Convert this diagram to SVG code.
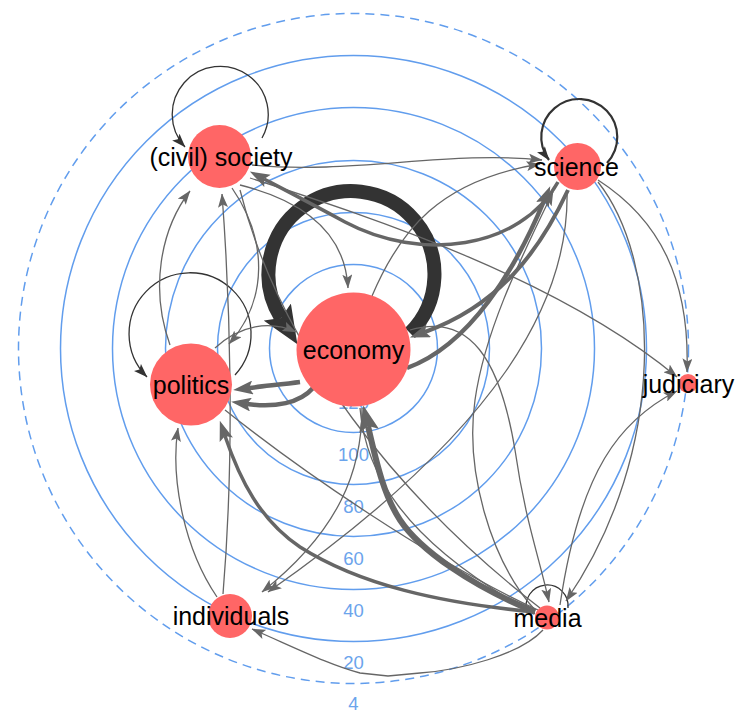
<svg xmlns="http://www.w3.org/2000/svg" width="738" height="713" viewBox="0 0 738 713">
<style>
.ring{fill:none;stroke:#619ded;stroke-width:1.5}
.rl{font-family:"Liberation Sans",Arial,sans-serif;font-size:18.5px;fill:#6ba4ec;text-anchor:middle}
.e{fill:none;stroke:#666;stroke-linecap:butt}
.lp{fill:none;stroke:#333}
.n{fill:#ff6666}
.nl{font-family:"Liberation Sans",Arial,sans-serif;font-size:25px;fill:#000;text-anchor:middle}
</style>
<defs>
<marker id="a" viewBox="0 0 14 10" refX="13.5" refY="5" markerWidth="14" markerHeight="10" markerUnits="userSpaceOnUse" orient="auto"><path d="M0,0 L14,5 L0,10 L3,5 Z" fill="#666"/></marker>
<marker id="ad" viewBox="0 0 14 10" refX="13.5" refY="5" markerWidth="14" markerHeight="10" markerUnits="userSpaceOnUse" orient="auto"><path d="M0,0 L14,5 L0,10 L3,5 Z" fill="#333"/></marker>
<marker id="am" viewBox="0 0 20 14" refX="4" refY="7" markerWidth="20" markerHeight="14" markerUnits="userSpaceOnUse" orient="auto"><path d="M0,0 L20,7 L0,14 L4,7 Z" fill="#666"/></marker>
<marker id="al" viewBox="0 0 26 20" refX="5" refY="10" markerWidth="26" markerHeight="20" markerUnits="userSpaceOnUse" orient="auto"><path d="M0,0 L26,10 L0,20 L5,10 Z" fill="#666"/></marker>
<marker id="ax" viewBox="0 0 38 32" refX="7" refY="16" markerWidth="38" markerHeight="32" markerUnits="userSpaceOnUse" orient="auto"><path d="M0,0 L38,16 L0,32 L7,16 Z" fill="#333"/></marker>
</defs>
<g id="rings">
<circle class="ring" cx="353.5" cy="348.5" r="32"/>
<circle class="ring" cx="353.5" cy="348.5" r="84"/>
<circle class="ring" cx="353.5" cy="348.5" r="136"/>
<circle class="ring" cx="353.5" cy="348.5" r="188"/>
<circle class="ring" cx="353.5" cy="348.5" r="241"/>
<circle class="ring" cx="353.5" cy="348.5" r="293"/>
<circle class="ring" cx="353.5" cy="348.5" r="335" stroke-dasharray="9 6"/>
<text class="rl" x="353.5" y="409">120</text>
<text class="rl" x="353.5" y="461">100</text>
<text class="rl" x="353.5" y="513">80</text>
<text class="rl" x="353.5" y="565">60</text>
<text class="rl" x="353.5" y="617">40</text>
<text class="rl" x="353.5" y="669">20</text>
<text class="rl" x="353.5" y="710">4</text>
</g>
<g id="connectors">
<path class="lp" stroke-width="1.3" d="M262 138 A48 48 0 1 0 185 147" marker-end="url(#ad)"/>
<path class="lp" stroke-width="2.2" d="M607 163 A38 38 0 1 0 549 160" marker-end="url(#ad)"/>
<path class="lp" stroke-width="1.3" d="M235 375 A61 61 0 1 0 147 377" marker-end="url(#ad)"/>
<path class="lp" stroke-width="1.3" d="M568 608 A21 21 0 1 0 527 612"/>
<path class="lp" stroke-width="14" d="M410 333 A83 83 0 1 0 281 318" marker-end="url(#ax)"/>
<path class="e" stroke-width="3.5" d="M558 182 C520 250 420 262 345 222 C310 203 285 190 264 179" marker-end="url(#am)"/>
<path class="e" stroke-width="1.3" d="M252 165 C350 175 450 150 542 160" marker-end="url(#a)"/>
<path class="e" stroke-width="1.3" d="M372 296 C400 230 440 180 540 164" marker-end="url(#a)"/>
<path class="e" stroke-width="4" d="M568 190 C540 250 500 305 425 332" marker-end="url(#am)"/>
<path class="e" stroke-width="4.5" d="M407 368 C470 345 515 270 544 201" marker-end="url(#am)"/>
<path class="e" stroke-width="1.3" d="M240 185 C300 200 345 230 348 288" marker-end="url(#a)"/>
<path class="e" stroke-width="1.3" d="M232 188 C268 240 268 300 229 344" marker-end="url(#a)"/>
<path class="e" stroke-width="1.3" d="M215 348 C240 325 270 320 296 332" marker-end="url(#a)"/>
<path class="e" stroke-width="4.5" d="M300 382 C285 384 265 386 249 388" marker-end="url(#am)"/>
<path class="e" stroke-width="4.5" d="M313 388 C300 403 275 408 247 404" marker-end="url(#am)"/>
<path class="e" stroke-width="6" d="M535 612 C470 585 420 550 400 520 C385 497 378 470 368 426" marker-end="url(#al)"/>
<path class="e" stroke-width="1.3" d="M360 408 C365 470 400 540 535 614"/>
<path class="e" stroke-width="1.3" d="M362 408 C362 470 340 530 262 592" marker-end="url(#a)"/>
<path class="e" stroke-width="3.5" d="M535 612 C440 603 360 585 300 547 C260 520 240 480 225 436" marker-end="url(#am)"/>
<path class="e" stroke-width="1.3" d="M217 597 C185 550 170 480 178 428" marker-end="url(#a)"/>
<path class="e" stroke-width="1.3" d="M223 594 C235 450 230 300 222 194" marker-end="url(#a)"/>
<path class="e" stroke-width="1.3" d="M170 345 C150 290 160 230 190 191" marker-end="url(#a)"/>
<path class="e" stroke-width="1.3" d="M598 180 C660 220 690 280 687 372" marker-end="url(#a)"/>
<path class="e" stroke-width="1.3" d="M598 182 C660 260 670 450 566 601" marker-end="url(#a)"/>
<path class="e" stroke-width="1.3" d="M410 330 C470 312 500 360 515 450 C525 520 540 560 549 602" marker-end="url(#a)"/>
<path class="e" stroke-width="1.3" d="M535 610 C490 560 465 470 475 400 C485 330 520 260 553 192" marker-end="url(#a)"/>
<path class="e" stroke-width="1.3" d="M567 190 C570 300 500 430 268 592" marker-end="url(#a)"/>
<path class="e" stroke-width="1.3" d="M250 178 C380 220 560 280 677 377" marker-end="url(#a)"/>
<path class="e" stroke-width="1.3" d="M560 605 C580 470 620 420 677 391" marker-end="url(#a)"/>
<path class="e" stroke-width="1.3" d="M543 630 C520 655 460 670 420 673 L388 676 L360 673 C330 665 300 650 252 629" marker-end="url(#a)"/>
<path class="e" stroke-width="1.3" d="M240 190 C280 350 400 500 540 608"/>
<path class="e" stroke-width="1.3" d="M225 410 C300 470 430 560 538 610"/>
</g>
<g id="economy"><circle class="n" cx="353.5" cy="349.5" r="57"/><text class="nl" x="353.5" y="359">economy</text></g>
<g id="society"><circle class="n" cx="219.5" cy="156.5" r="31.5"/><text class="nl" x="221" y="166">(civil) society</text></g>
<g id="science"><circle class="n" cx="577.5" cy="166.5" r="23.5"/><text class="nl" x="576.5" y="176">science</text></g>
<g id="politics"><circle class="n" cx="191" cy="384.5" r="41"/><text class="nl" x="191" y="394">politics</text></g>
<g id="judiciary"><circle class="n" cx="688" cy="383.5" r="9.5"/><text class="nl" x="688.5" y="393">judiciary</text></g>
<g id="media"><circle class="n" cx="547" cy="617.5" r="12"/><text class="nl" x="547.5" y="627">media</text></g>
<g id="individuals"><circle class="n" cx="230" cy="616" r="22"/><text class="nl" x="231" y="625">individuals</text></g>
</svg>
